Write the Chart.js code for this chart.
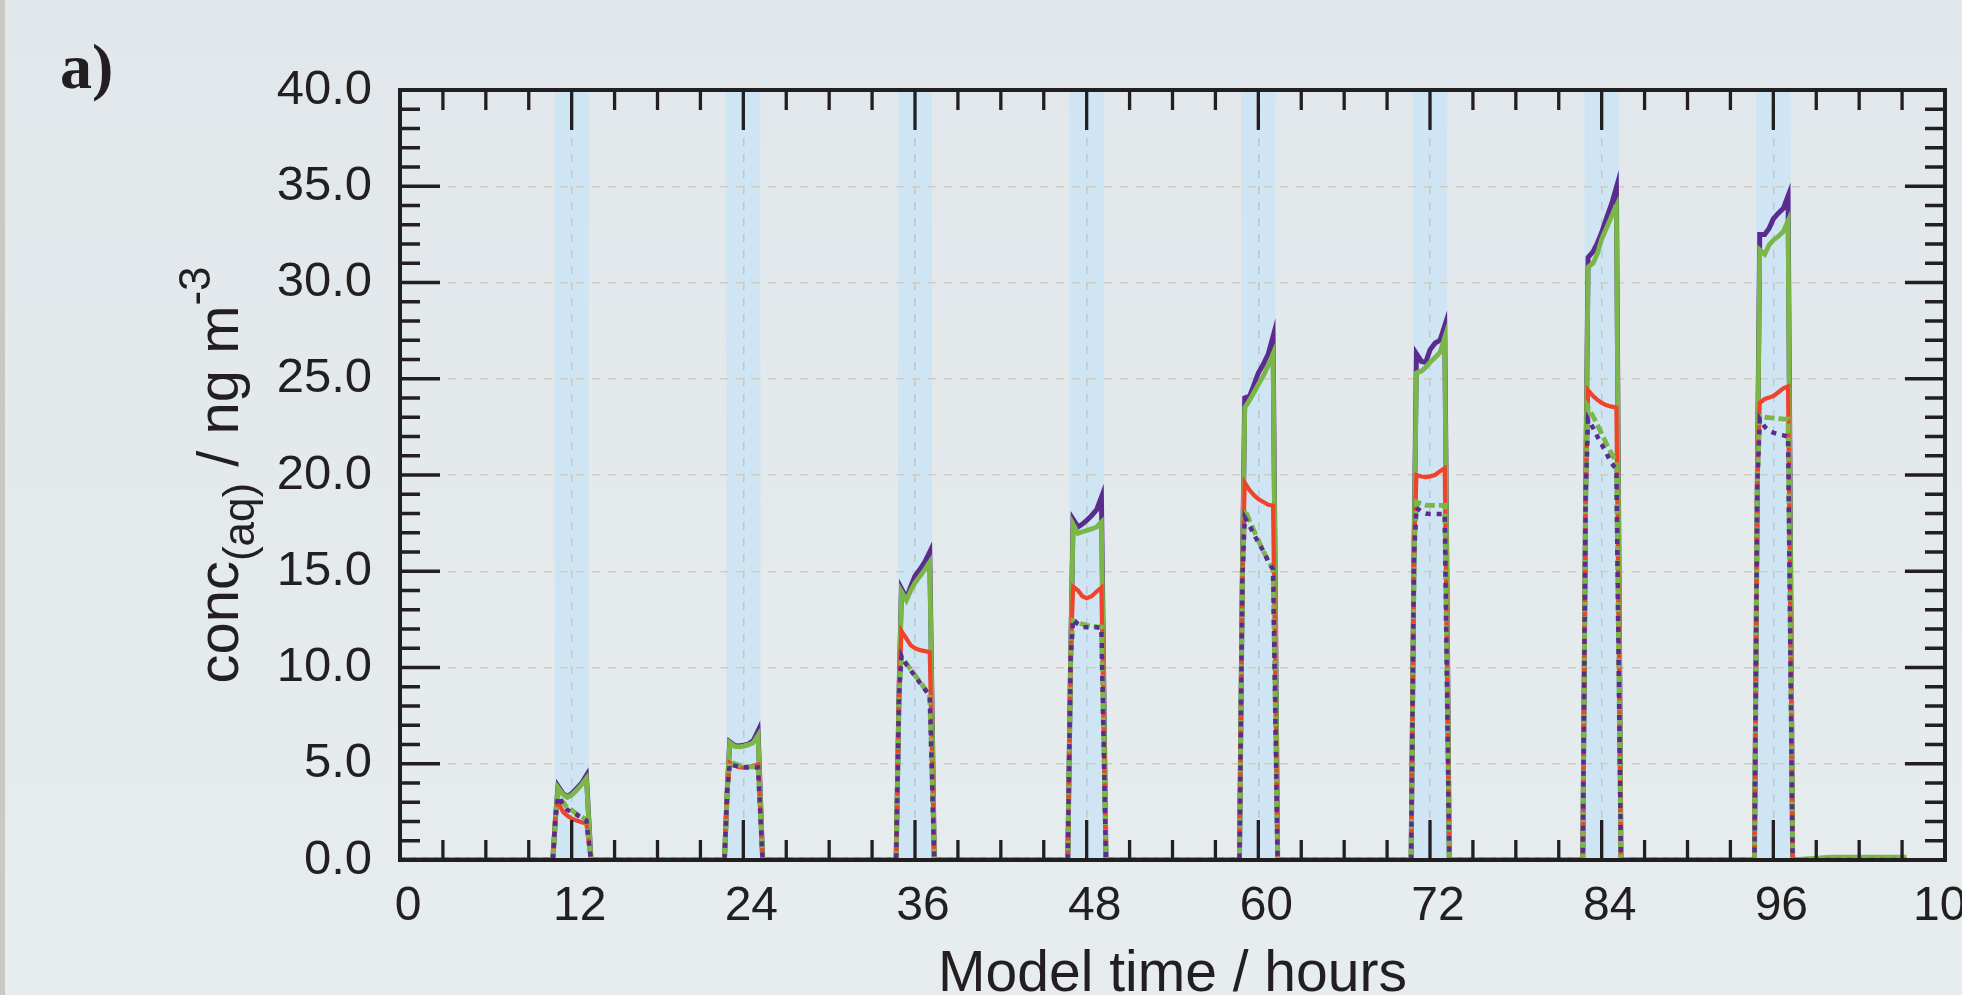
<!DOCTYPE html>
<html>
<head>
<meta charset="utf-8">
<title>conc(aq) vs model time</title>
<script src="https://cdn.jsdelivr.net/npm/chart.js@4.4.1/dist/chart.umd.min.js"></script>
<style>
  html, body { margin: 0; padding: 0; overflow: hidden; background: #e4e9ec; }
  canvas { display: block; }
</style>
</head>
<body>
<canvas id="chart" width="2010" height="995"></canvas>
<script>
// Zeitachse (Stunden), gemeinsam fuer alle Kurven
const hours = [0,
  10.68, 10.88, 11.05, 11.4, 11.7, 12, 12.35, 12.7, 13.03, 13.35,
  22.68, 22.88, 23.05, 23.4, 23.7, 24, 24.35, 24.7, 25.03, 25.35,
  34.68, 34.88, 35.05, 35.4, 35.7, 36, 36.35, 36.7, 37.03, 37.35,
  46.68, 46.88, 47.05, 47.4, 47.7, 48, 48.35, 48.7, 49.03, 49.35,
  58.68, 58.88, 59.05, 59.4, 59.7, 60, 60.35, 60.7, 61.03, 61.35,
  70.68, 70.88, 71.05, 71.4, 71.7, 72, 72.35, 72.7, 73.03, 73.35,
  82.68, 82.88, 83.05, 83.4, 83.7, 84, 84.35, 84.7, 85.03, 85.35,
  94.68, 94.88, 95.05, 95.4, 95.7, 96, 96.35, 96.7, 97.03, 97.35,
  100, 105.3];

const purpleSolid = [0,
  0, 2.3, 3.84, 3.45, 3.3, 3.45, 3.72, 4.0, 4.4, 0,
  0, 3.7, 6.14, 5.95, 5.92, 5.96, 6.02, 6.2, 6.71, 0,
  0, 8.5, 14.1, 13.6, 14.2, 14.75, 15.1, 15.5, 16.0, 0,
  0, 10.5, 17.7, 17.3, 17.45, 17.64, 17.9, 18.2, 18.85, 0,
  0, 14.5, 24.0, 24.1, 24.7, 25.3, 25.75, 26.3, 27.2, 0,
  0, 15.8, 26.3, 25.9, 25.85, 26.5, 26.85, 27.0, 27.76, 0,
  0, 19.0, 31.3, 31.6, 32.05, 32.6, 33.37, 34.1, 34.95, 0,
  0, 19.5, 32.5, 32.5, 32.8, 33.3, 33.6, 33.85, 34.5, 0,
  0, 0];

const greenSolid = [0,
  0, 2.3, 3.75, 3.4, 3.25, 3.38, 3.62, 3.92, 4.24, 0,
  0, 3.7, 6.1, 5.9, 5.88, 5.92, 5.98, 6.1, 6.48, 0,
  0, 8.5, 13.95, 13.5, 14.0, 14.4, 14.75, 15.1, 15.48, 0,
  0, 10.5, 17.45, 16.97, 17.05, 17.12, 17.2, 17.3, 17.55, 0,
  0, 14.5, 23.5, 23.9, 24.3, 24.7, 25.16, 25.7, 26.3, 0,
  0, 15.8, 25.3, 25.4, 25.6, 25.85, 26.1, 26.37, 27.15, 0,
  0, 19.0, 30.8, 31.0, 31.5, 32.25, 32.85, 33.45, 33.98, 0,
  0, 19.5, 31.7, 31.47, 31.95, 32.2, 32.4, 32.65, 33.2, 0,
  0.15, 0.15];

const redSolid = [0,
  0, 2.3, 3.0, 2.5, 2.3, 2.15, 2.05, 1.96, 1.9, 0,
  0, 3.7, 5.05, 4.9, 4.82, 4.8, 4.82, 4.9, 4.96, 0,
  0, 8.5, 11.9, 11.5, 11.15, 11.0, 10.9, 10.85, 10.8, 0,
  0, 10.5, 14.2, 14.0, 13.7, 13.6, 13.7, 13.95, 14.15, 0,
  0, 14.5, 19.6, 19.2, 18.95, 18.75, 18.6, 18.45, 18.4, 0,
  0, 15.8, 20.0, 19.92, 19.89, 19.93, 20.0, 20.2, 20.35, 0,
  0, 19.0, 24.4, 24.1, 23.9, 23.75, 23.62, 23.55, 23.5, 0,
  0, 19.5, 23.75, 23.95, 24.02, 24.1, 24.3, 24.5, 24.6, 0,
  0, 0];

const greenDashed = [0,
  0, 2.3, 3.4, 3.0, 2.7, 2.6, 2.4, 2.25, 2.08, 0,
  0, 3.7, 5.1, 5.0, 4.92, 4.88, 4.84, 4.84, 4.84, 0,
  0, 8.5, 10.55, 10.2, 9.9, 9.6, 9.25, 8.9, 8.6, 0,
  0, 10.5, 12.45, 12.35, 12.25, 12.19, 12.15, 12.12, 12.1, 0,
  0, 14.5, 18.2, 17.6, 17.1, 16.6, 16.05, 15.5, 15.1, 0,
  0, 15.8, 18.6, 18.5, 18.43, 18.42, 18.42, 18.42, 18.42, 0,
  0, 19.0, 23.5, 23.05, 22.6, 22.15, 21.6, 21.1, 20.7, 0,
  0, 19.5, 23.05, 23.0, 22.98, 22.95, 22.93, 22.91, 22.9, 0,
  0, 0];

const purpleDotted = [0,
  0, 2.3, 3.3, 2.9, 2.6, 2.5, 2.35, 2.2, 2.05, 0,
  0, 3.7, 5.0, 4.9, 4.85, 4.82, 4.8, 4.8, 4.8, 0,
  0, 8.5, 10.6, 10.15, 9.85, 9.55, 9.2, 8.85, 8.55, 0,
  0, 10.5, 12.5, 12.25, 12.1, 12.09, 12.09, 12.09, 12.05, 0,
  0, 14.5, 17.8, 17.35, 16.9, 16.5, 16.05, 15.5, 15.1, 0,
  0, 15.8, 18.3, 18.1, 18.0, 17.98, 17.98, 17.98, 17.98, 0,
  0, 19.0, 22.9, 22.45, 22.0, 21.6, 21.1, 20.6, 20.3, 0,
  0, 19.5, 22.9, 22.5, 22.3, 22.2, 22.12, 22.06, 22.0, 0,
  0, 0];

// hellblaue Bereiche (Stunden)
const bandStart = [10.8, 22.8, 34.8, 46.8, 58.8, 70.8, 82.8, 94.8];
const bandEnd = [13.2, 25.2, 37.2, 49.2, 61.2, 73.2, 85.2, 97.2];

// Achsenbeschriftung
const xLabels = [0, 12, 24, 36, 48, 60, 72, 84, 96, 108];
const yLabels = [0, 5, 10, 15, 20, 25, 30, 35, 40];
const xMinorStep = 3;
const yMinorStep = 1;

const ink = "#231f20";
const sans = '"Liberation Sans", Arial, Helvetica, sans-serif';

function series(values) {
  return hours.map((h, i) => ({ x: h, y: values[i] }));
}

// Hintergrund, Baender, Rahmen mit Ticks nach innen, Achsentitel
const decor = {
  id: "decor",
  beforeDraw(chart) {
    const { ctx, chartArea: a, scales: { x } } = chart;
    ctx.save();
    const g = ctx.createLinearGradient(0, 0, 0, chart.height);
    g.addColorStop(0, "#e1e7ea");
    g.addColorStop(1, "#e7ecee");
    ctx.fillStyle = g;
    ctx.fillRect(0, 0, chart.width, chart.height);
    ctx.fillStyle = "#cbc7c1";
    ctx.fillRect(0, 0, 5, chart.height);

    ctx.fillStyle = "#cfe5f3";
    bandStart.forEach((s, i) => {
      const x0 = x.getPixelForValue(s);
      const x1 = x.getPixelForValue(bandEnd[i]);
      ctx.fillRect(x0, a.top, x1 - x0, a.bottom - a.top);
    });
    ctx.restore();
  },
  afterDatasetsDraw(chart) {
    const { ctx, chartArea: a, scales: { x, y } } = chart;
    ctx.save();
    ctx.strokeStyle = ink;
    ctx.lineWidth = 3.3;
    ctx.beginPath();
    for (let h = x.min; h <= x.max; h += xMinorStep) {
      const len = xLabels.includes(h) ? 40 : 20;
      const px = x.getPixelForValue(h);
      ctx.moveTo(px, a.bottom); ctx.lineTo(px, a.bottom - len);
      ctx.moveTo(px, a.top); ctx.lineTo(px, a.top + len);
    }
    for (let v = y.min; v <= y.max; v += yMinorStep) {
      const len = yLabels.includes(v) ? 40 : 20;
      const py = y.getPixelForValue(v);
      ctx.moveTo(a.left, py); ctx.lineTo(a.left + len, py);
      ctx.moveTo(a.right, py); ctx.lineTo(a.right - len, py);
    }
    ctx.stroke();
    ctx.lineWidth = 4;
    ctx.strokeRect(a.left, a.top, a.right - a.left, a.bottom - a.top);
    ctx.restore();
  },
  afterDraw(chart) {
    const { ctx, chartArea: a } = chart;
    ctx.save();
    ctx.fillStyle = ink;
    ctx.textBaseline = "alphabetic";

    // x-Titel
    ctx.font = "57px " + sans;
    ctx.textAlign = "center";
    ctx.fillText("Model time / hours", (a.left + a.right) / 2, 991);

    // y-Titel mit Tief- und Hochstellung
    const parts = [["conc", 58, 0], ["(aq)", 44, 16], [" / ng m", 58, 0], ["-3", 44, -28]];
    let total = 0;
    parts.forEach(p => { ctx.font = p[1] + "px " + sans; total += ctx.measureText(p[0]).width; });
    ctx.translate(238, (a.top + a.bottom) / 2 + total / 2);
    ctx.rotate(-Math.PI / 2);
    ctx.textAlign = "left";
    let cx = 0;
    parts.forEach(p => {
      ctx.font = p[1] + "px " + sans;
      ctx.fillText(p[0], cx, p[2]);
      cx += ctx.measureText(p[0]).width;
    });
    ctx.restore();

    ctx.save();
    ctx.fillStyle = ink;
    ctx.font = 'bold 64px "Liberation Serif", "Times New Roman", serif';
    ctx.textAlign = "left";
    ctx.fillText("a)", 60, 88);
    ctx.restore();
  }
};

const ctx = document.getElementById("chart").getContext("2d");
new Chart(ctx, {
  type: "line",
  data: {
    datasets: [
      { label: "purple solid", data: series(purpleSolid), borderColor: "#5b2c8f", borderWidth: 5, order: 5 },
      { label: "green solid", data: series(greenSolid), borderColor: "#7ab648", borderWidth: 4.8, order: 4 },
      { label: "red solid", data: series(redSolid), borderColor: "#f1432a", borderWidth: 4.2, order: 3 },
      { label: "green dashed", data: series(greenDashed), borderColor: "#7ab648", borderWidth: 4.8, borderDash: [10, 4], order: 2 },
      { label: "purple dotted", data: series(purpleDotted), borderColor: "#5b2c8f", borderWidth: 4.5, borderDash: [5, 6], order: 1 }
    ]
  },
  options: {
    responsive: false,
    animation: false,
    devicePixelRatio: 1,
    layout: { padding: { top: 90, right: 65, left: 0, bottom: 0 } },
    elements: {
      point: { radius: 0 },
      line: { tension: 0, fill: false }
    },
    plugins: {
      legend: { display: false },
      tooltip: { enabled: false }
    },
    scales: {
      x: {
        type: "linear",
        min: 0,
        max: 108,
        afterBuildTicks: s => { s.ticks = xLabels.map(v => ({ value: v })); },
        afterFit: s => { s.height = 135; },
        ticks: {
          color: ink,
          font: { family: sans, size: 48 },
          padding: 18,
          labelOffset: 8,
          maxRotation: 0,
          autoSkip: false
        },
        grid: {
          color: c => (c.tick && c.tick.value > 0 && c.tick.value < 108) ? "#bdc8cf" : "rgba(0,0,0,0)",
          lineWidth: 1.5,
          drawTicks: false
        },
        border: { display: false, dash: [8, 8] }
      },
      y: {
        min: 0,
        max: 40,
        afterBuildTicks: s => { s.ticks = yLabels.map(v => ({ value: v })); },
        afterFit: s => { s.width = 400; },
        ticks: {
          color: ink,
          font: { family: sans, size: 49 },
          padding: 28,
          callback: v => v.toFixed(1)
        },
        grid: {
          color: c => (c.tick && c.tick.value > 0 && c.tick.value < 40) ? "#d6cbba" : "rgba(0,0,0,0)",
          lineWidth: 1.5,
          drawTicks: false
        },
        border: { display: false, dash: [8, 8] }
      }
    }
  },
  plugins: [decor]
});
</script>
</body>
</html>
